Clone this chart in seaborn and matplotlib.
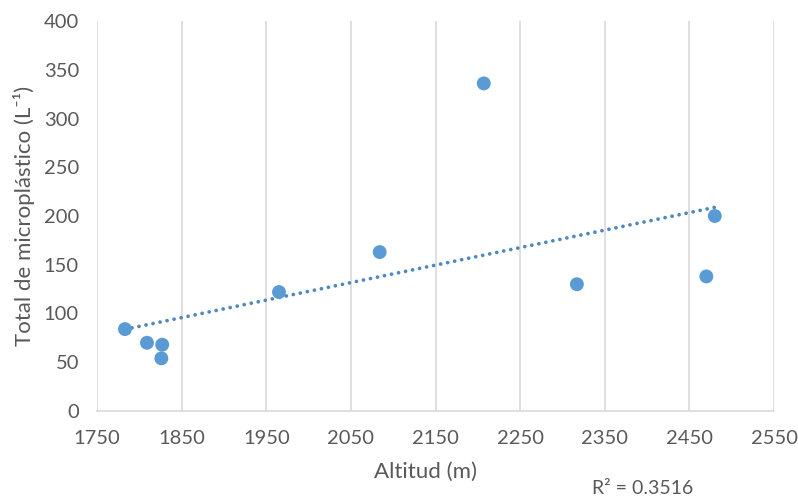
import numpy as np
import pandas as pd
import matplotlib
matplotlib.use("Agg")
import matplotlib.pyplot as plt
import seaborn as sns

# Altitude of each sampling site (m) and total microplastics per litre
altitud = [1783, 1809, 1827, 1826, 1965, 2084, 2207, 2317, 2470, 2480]
microplastico = [84, 70, 68, 54, 122, 163, 336, 130, 138, 200]
r2_text = "R² = 0.3516"

x_ticks = list(range(1750, 2551, 100))
y_ticks = list(range(0, 401, 50))

df = pd.DataFrame({"Altitud": altitud, "Total": microplastico})

sns.set_theme(style="white")
plt.rcParams["font.family"] = ["Lato", "DejaVu Sans"]

blue = "#5B9BD5"
trend_blue = "#4F88BF"
text_col = "#595959"

fig = plt.figure(figsize=(7.98, 5.0), dpi=100)
ax = fig.add_axes([0.1216, 0.178, 0.8484, 0.780])

# linear trend line (round dots), spanning the data range
sns.regplot(data=df, x="Altitud", y="Total", ax=ax, scatter=False, ci=None,
            truncate=True,
            line_kws=dict(color=trend_blue, lw=2.7, linestyle=(0, (0.01, 1.9)),
                          dash_capstyle="round", zorder=2))
sns.scatterplot(data=df, x="Altitud", y="Total", ax=ax, s=100, color=blue,
                edgecolor="none", zorder=3)

ax.set_xlim(1750, 2550)
ax.set_ylim(0, 400)
ax.set_xticks(x_ticks)
ax.set_yticks(y_ticks)
ax.xaxis.grid(True, color="#d9d9d9", lw=1.2)
ax.yaxis.grid(False)
ax.set_axisbelow(True)

for s in ["top", "right", "left"]:
    ax.spines[s].set_visible(False)
ax.spines["bottom"].set_color("#d9d9d9")
ax.spines["bottom"].set_linewidth(1.2)

ax.tick_params(axis="both", length=0, labelsize=14.5, colors=text_col)
ax.tick_params(axis="x", pad=14)
ax.tick_params(axis="y", pad=13)

ax.set_xlabel("Altitud (m)", fontsize=16, color=text_col)
ax.xaxis.set_label_coords(0.485, -0.13)
ax.set_ylabel("Total de microplástico (L⁻¹)", fontsize=16, color=text_col)
ax.yaxis.set_label_coords(-0.092, 0.5)

fig.text(0.742, 0.024, r2_text, fontsize=14, color=text_col,
         ha="left", va="center")

fig.savefig("out.png", dpi=100)
